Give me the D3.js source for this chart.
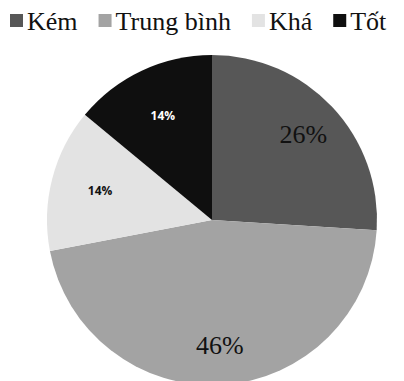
<!DOCTYPE html>
<html>
<head>
<meta charset="utf-8">
<script src="https://cdn.jsdelivr.net/npm/d3@7"></script>
<style>
  body { margin: 0; background: #fff; }
  .serif { font-family: "Liberation Serif", "Times New Roman", Times, "DejaVu Serif", serif; }
  .sans { font-family: "Open Sans", "Noto Sans", sans-serif; }
</style>
</head>
<body>
<div class="chart"></div>
<script>
const categories = ["Kém", "Trung bình", "Khá", "Tốt"];
const values = [26, 46, 14, 14];
const colors = ["#575757", "#a3a3a3", "#e3e3e3", "#0f0f0f"];
const labelColors = ["#111", "#111", "#111", "#fff"];

const width = 404, height = 381;
const radius = 165;
const cx = 212, cy = 220;

const svg = d3.select(".chart")
  .append("svg")
  .attr("width", width)
  .attr("height", height);

const data = categories.map((c, i) => ({ name: c, value: values[i], color: colors[i], label: labelColors[i] }));

const pie = d3.pie().sort(null).value(d => d.value);
const arc = d3.arc().innerRadius(0).outerRadius(radius);
const arcs = pie(data);

const g = svg.append("g").attr("transform", `translate(${cx},${cy})`);

g.selectAll("path")
  .data(arcs)
  .enter()
  .append("path")
  .attr("d", arc)
  .style("fill", d => d.data.color);

// big slices get serif labels, small ones a bold sans label
const bigLabel = d3.arc().innerRadius(radius * 0.76).outerRadius(radius * 0.76);
const smallLabel = d3.arc().innerRadius(radius * 0.70).outerRadius(radius * 0.70);

g.selectAll("text.pct")
  .data(arcs)
  .enter()
  .append("text")
  .attr("class", d => "pct " + (d.data.value > 20 ? "serif" : "sans"))
  .attr("transform", d => {
    const c = (d.data.value > 20 ? bigLabel : smallLabel).centroid(d);
    return `translate(${c[0]},${c[1]})`;
  })
  .attr("text-anchor", "middle")
  .attr("dy", "0.35em")
  .style("font-size", d => d.data.value > 20 ? "26px" : "12px")
  .style("font-weight", d => d.data.value > 20 ? "normal" : "bold")
  .style("fill", d => d.data.label)
  .text(d => d.data.value + "%");

// legend
const legend = svg.append("g").attr("class", "legend");
let lx = 10;
data.forEach(d => {
  const item = legend.append("g").attr("transform", `translate(${lx},0)`);
  item.append("rect")
    .attr("x", 0)
    .attr("y", 14)
    .attr("width", 13)
    .attr("height", 13)
    .style("fill", d.color);
  const t = item.append("text")
    .attr("class", "serif")
    .attr("x", 17)
    .attr("y", 30)
    .style("font-size", "26px")
    .style("fill", "#111")
    .text(d.name);
  lx += 17 + t.node().getComputedTextLength() + 21;
});
</script>
</body>
</html>
